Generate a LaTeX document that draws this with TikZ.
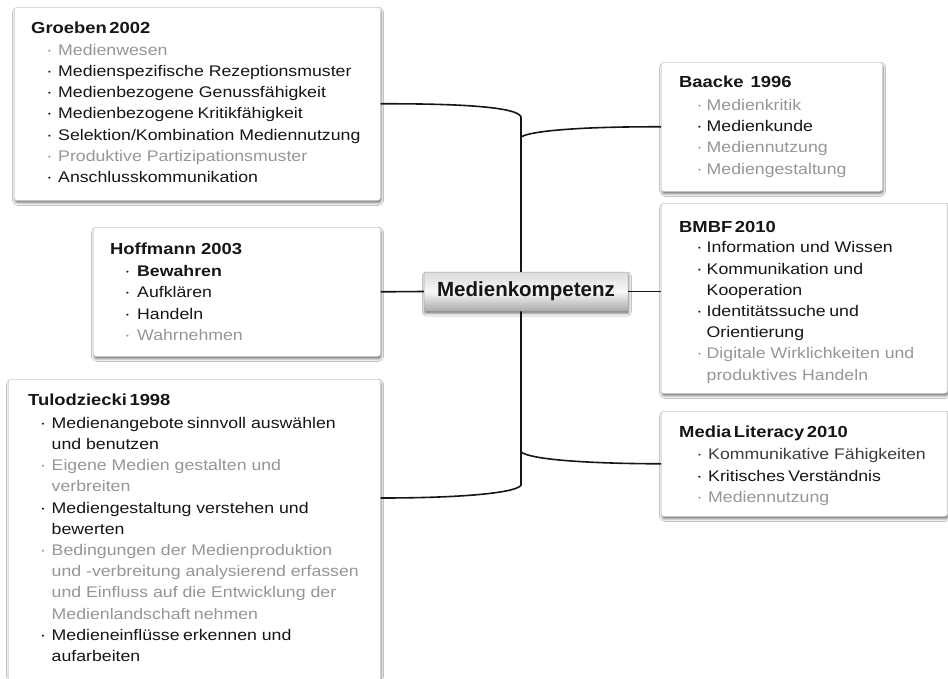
\documentclass[tikz,border=0pt]{standalone}
\usepackage{fontspec}
\setmainfont{Liberation Sans}[FakeStretch=1.15]
\newfontfamily\cfont{Liberation Sans}
\usetikzlibrary{shadows,shadows.blur}
\definecolor{txt}{HTML}{161616}
\definecolor{lgt}{HTML}{969696}
\definecolor{mid}{HTML}{3C3C3C}
\definecolor{bord}{HTML}{D4D4D4}
\newlength\bi
\newlength\bw
\newcommand\ns{\hspace{3.5pt}}
\newcommand\nt{\hspace{2.5pt}}
\newcommand\ttl[1]{\rule{0pt}{15pt}{\fontsize{16}{21.3}\selectfont\bfseries #1}}
\newcommand\bul[1]{\textcolor{#1}{\raisebox{2pt}{\fontsize{7}{7}\selectfont •}}}
\newcommand\li[2]{\hspace*{\bi}\makebox[\bw][l]{\bul{#1}}\textcolor{#1}{#2}}
\newcommand\lc[2]{\hspace*{\bi}\hspace*{\bw}\textcolor{#1}{#2}}
\begin{document}
\begin{tikzpicture}[x=1pt,y=-1pt,
  box/.style={draw=bord, line width=0.6pt, fill=white, rounded corners=2.5pt,
    inner sep=0pt, anchor=north west,
    blur shadow={shadow xshift=0.8pt, shadow yshift=-2.5pt, shadow blur radius=2.5pt, shadow opacity=55}},
  txtn/.style={anchor=north west, align=left, inner sep=0pt,
    font=\fontsize{15.4}{21.2}\selectfont, text=txt},
  bset/.code 2 args={\setlength\bi{#1}\setlength\bw{#2}},
  hub/.style={draw=gray!65, line width=0.5pt, rounded corners=1pt,
    top color=gray!28, bottom color=gray!66, middle color=gray!6,
    minimum width=204pt, minimum height=39pt, inner sep=0pt,
    font=\cfont\fontsize{20.5}{24}\selectfont\bfseries, text=txt,
    blur shadow={shadow xshift=0.8pt, shadow yshift=-2.5pt, shadow blur radius=2.5pt, shadow opacity=55}},
  conn/.style={draw=txt, line width=1.6pt}]
\clip (0,0) rectangle (948,678);
\fill[white] (0,0) rectangle (948,678);

% boxes
\node[box, minimum width=366pt, minimum height=193pt] (groeben) at (14,7) {};
\node[box, minimum width=287pt, minimum height=129pt] (hoffmann) at (93,227) {};
\node[box, minimum width=372pt, minimum height=340pt] (tulo) at (8,379) {};
\node[box, minimum width=221pt, minimum height=129pt] (baacke) at (661,62) {};
\node[box, minimum width=286pt, minimum height=190pt] (bmbf) at (661,203) {};
\node[box, minimum width=286pt, minimum height=105pt] (ml) at (661,411) {};

\node[hub] (center) at (526,291.5) {Medienkompetenz};

% connectors
\coordinate (jt) at (521,117);
\coordinate (jb) at (521,485);
\coordinate (jr1) at (521,137);
\coordinate (jr2) at (521,452);
\draw[conn] (groeben.east) .. controls (460,103.5) and (518,107) .. (jt) -- ([xshift=-5pt]center.north);
\draw[conn] (jr1) .. controls (530,131) and (580,126.5) .. (baacke.west);
\draw[conn] (hoffmann.east) -- (center.west);
\draw[conn] (center.east) -- (center.east -| bmbf.west);
\draw[conn] ([xshift=-5pt]center.south) -- (jb) .. controls (518,492) and (470,498) .. ([yshift=-119pt]tulo.north east);
\draw[conn] (jr2) .. controls (530,459) and (580,463.5) .. (ml.west);

% texts (north west = title baseline - 15)
\node[txtn, bset={17pt}{10pt}] (tgroeben) at (31,18) {\ttl{Groeben\nt 2002}\\[0.8pt]
  \li{lgt}{Medienwesen}\\
  \li{txt}{Medienspezifische Rezeptionsmuster}\\
  \li{txt}{Medienbezogene Genussfähigkeit}\\
  \li{txt}{Medienbezogene\ns Kritikfähigkeit}\\
  \li{txt}{Selektion/Kombination Mediennutzung}\\
  \li{lgt}{Produktive Partizipationsmuster}\\
  \li{txt}{Anschlusskommunikation}};

\node[txtn, bset={16pt}{11pt}] (thoffmann) at (110,239.5) {\ttl{Hoffmann 2003}\\[0.8pt]
  \li{txt}{\bfseries Bewahren}\\
  \li{txt}{Aufklären}\\
  \li{txt}{Handeln}\\
  \li{lgt}{Wahrnehmen}};

\node[txtn, bset={13.5pt}{10pt}] (ttulo) at (28,390) {\ttl{Tulodziecki\nt 1998}\\[1.8pt]
  \li{txt}{Medienangebote\ns sinnvoll auswählen}\\
  \lc{txt}{und benutzen}\\
  \li{lgt}{Eigene Medien gestalten und}\\
  \lc{lgt}{verbreiten}\\
  \li{txt}{Mediengestaltung verstehen und}\\
  \lc{txt}{bewerten}\\
  \li{lgt}{Bedingungen der Medienproduktion}\\
  \lc{lgt}{und -verbreitung analysierend erfassen}\\
  \lc{lgt}{und Einfluss auf die Entwicklung der}\\
  \lc{lgt}{Medienlandschaft\ns nehmen}\\
  \li{txt}{Medieneinflüsse\ns erkennen und}\\
  \lc{txt}{aufarbeiten}};

\node[txtn, bset={19pt}{8.5pt}] (tbaacke) at (679,72) {\ttl{Baacke\hspace{2pt} 1996}\\[2pt]
  \li{lgt}{Medienkritik}\\
  \li{txt}{Medienkunde}\\
  \li{lgt}{Mediennutzung}\\
  \li{lgt}{Mediengestaltung}};

\node[txtn, bset={19pt}{8.5pt}] (tbmbf) at (679,217) {\ttl{BMBF\nt 2010}\\[-0.5pt]
  \li{txt}{Information und Wissen}\\
  \li{txt}{Kommunikation und}\\
  \lc{txt}{Kooperation}\\
  \li{txt}{Identitätssuche\ns und}\\
  \lc{txt}{Orientierung}\\
  \li{lgt}{Digitale Wirklichkeiten und}\\
  \lc{lgt}{produktives Handeln}};

\node[txtn, bset={19pt}{10pt}] (tml) at (679,422) {\ttl{Media\nt Literacy\nt 2010}\\[1.5pt]
  \li{mid}{Kommunikative Fähigkeiten}\\
  \li{txt}{Kritisches\ns Verständnis}\\
  \li{lgt}{Mediennutzung}};
\end{tikzpicture}
\end{document}
